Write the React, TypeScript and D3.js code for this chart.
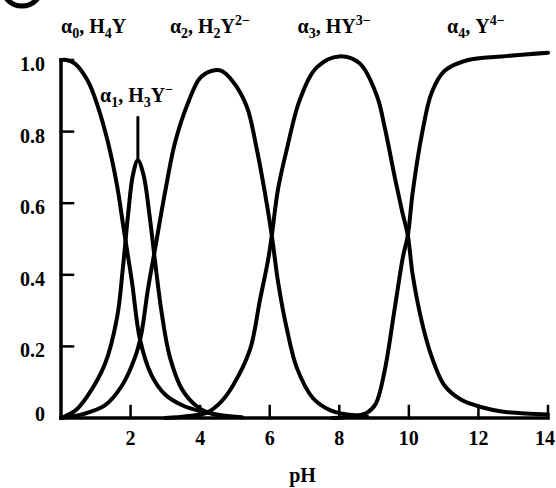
import * as d3 from 'd3';

// fraction of each EDTA species vs pH as [pH, alpha]
const alpha0: [number, number][] = [
  [0, 1.0], [0.15, 1.0], [0.4, 0.99], [0.78, 0.94], [1.06, 0.87], [1.35, 0.77],
  [1.61, 0.65], [1.8, 0.53], [2.04, 0.38], [2.27, 0.22], [2.6, 0.12], [3.0, 0.065],
  [3.5, 0.035], [4.05, 0.018], [4.6, 0.008], [5.2, 0.002],
];
const alpha1: [number, number][] = [
  [0, 0], [0.4, 0.02], [0.75, 0.06], [1.26, 0.15], [1.61, 0.28], [1.78, 0.42],
  [1.93, 0.57], [2.07, 0.68], [2.21, 0.72], [2.37, 0.68], [2.54, 0.57], [2.7, 0.44],
  [2.9, 0.29], [3.13, 0.17], [3.48, 0.08], [3.94, 0.03], [4.4, 0.01], [5.0, 0.002],
];
const alpha2: [number, number][] = [
  [0, 0], [0.6, 0.01], [1.26, 0.035], [1.75, 0.09], [2.13, 0.17], [2.3, 0.23],
  [2.5, 0.36], [2.7, 0.47], [2.99, 0.63], [3.28, 0.77], [3.65, 0.88], [4.0, 0.95],
  [4.35, 0.97], [4.6, 0.97], [4.94, 0.94], [5.34, 0.87], [5.63, 0.75], [5.86, 0.63],
  [6.06, 0.51], [6.24, 0.38], [6.49, 0.25], [6.78, 0.14], [7.24, 0.056], [7.73, 0.022],
  [8.1, 0.012], [8.8, 0.004],
];
const alpha3: [number, number][] = [
  [3.0, 0], [3.6, 0.005], [4.2, 0.015], [4.6, 0.045], [4.94, 0.09], [5.43, 0.19],
  [5.72, 0.33], [5.95, 0.44], [6.06, 0.51], [6.24, 0.64], [6.49, 0.75], [6.87, 0.89],
  [7.36, 0.98], [8.0, 1.01], [8.59, 0.99], [9.08, 0.9], [9.31, 0.81], [9.6, 0.67],
  [9.8, 0.58], [9.97, 0.51], [10.11, 0.4], [10.37, 0.27], [10.66, 0.17], [11.03, 0.09],
  [11.52, 0.05], [12.1, 0.03], [12.67, 0.018], [14, 0.01],
];
const alpha4: [number, number][] = [
  [7.8, 0], [8.4, 0.005], [8.8, 0.015], [9.05, 0.04], [9.3, 0.13], [9.6, 0.31],
  [9.83, 0.45], [9.97, 0.51], [10.11, 0.63], [10.37, 0.79], [10.66, 0.91], [11.03, 0.97],
  [11.7, 1.0], [12.67, 1.01], [14, 1.02],
];

const xTicks = [2, 4, 6, 8, 10, 12, 14];
const yTicks = [0.2, 0.4, 0.6, 0.8, 1.0];
const yTickLabels = ['0', '0.2', '0.4', '0.6', '0.8', '1.0'];

// label text pieces: [text, 'sub' | 'sup' | '']
type Piece = [string, string];
const speciesLabels: { ph: number; v: number; pieces: Piece[] }[] = [
  { ph: 0, v: 1.075, pieces: [['α', ''], ['0', 'sub'], [', H', ''], ['4', 'sub'], ['Y', '']] },
  { ph: 1.12, v: 0.883, pieces: [['α', ''], ['1', 'sub'], [', H', ''], ['3', 'sub'], ['Y', ''], ['−', 'sup']] },
  { ph: 3.13, v: 1.075, pieces: [['α', ''], ['2', 'sub'], [', H', ''], ['2', 'sub'], ['Y', ''], ['2−', 'sup']] },
  { ph: 6.8, v: 1.075, pieces: [['α', ''], ['3', 'sub'], [', HY', ''], ['3−', 'sup']] },
  { ph: 11.1, v: 1.075, pieces: [['α', ''], ['4', 'sub'], [', Y', ''], ['4−', 'sup']] },
];

const x = d3.scaleLinear().domain([0, 14]).range([61, 548]);
const y = d3.scaleLinear().domain([0, 1]).range([418, 60]);

const line = d3
  .line<[number, number]>()
  .x((d) => x(d[0]))
  .y((d) => y(d[1]))
  .curve(d3.curveCatmullRom.alpha(0.5));

const font = '"Liberation Serif", "Times New Roman", serif';

const Label = ({ ph, v, pieces }: { ph: number; v: number; pieces: Piece[] }) => {
  let shift = 0;
  return (
    <text x={x(ph)} y={y(v)} fontSize={20} fontWeight="bold" fontFamily={font}>
      {pieces.map(([t, kind], i) => {
        const target = kind === 'sub' ? 5 : kind === 'sup' ? -8 : 0;
        const dy = target - shift;
        shift = target;
        return (
          <tspan key={i} dy={dy} fontSize={kind ? 14 : 20}>
            {t}
          </tspan>
        );
      })}
    </text>
  );
};

export default function App() {
  const curves = [alpha0, alpha1, alpha2, alpha3, alpha4];
  return (
    <svg
      width={556}
      height={488}
      style={{ position: 'absolute', left: 0, top: 0, background: '#fff' }}
    >
      <rect width={556} height={488} fill="#fff" />
      <circle cx={22} cy={-14} r={20} fill="none" stroke="#000" strokeWidth={5} />

      {/* axes */}
      <g stroke="#000" strokeWidth={3.5} fill="none" strokeLinecap="square">
        <line x1={x(0)} x2={x(0)} y1={y(1)} y2={y(0)} />
        <line x1={x(0)} x2={x(14)} y1={y(0)} y2={y(0)} />
        {xTicks.map((t) => (
          <line key={t} x1={x(t)} x2={x(t)} y1={y(0)} y2={y(0) - 12} strokeWidth={2.5} />
        ))}
        {yTicks.map((t) => (
          <line key={t} x1={x(0)} x2={x(0) + 12} y1={y(t)} y2={y(t)} strokeWidth={2.5} />
        ))}
      </g>

      <g fontFamily={font} fontWeight="bold" fontSize={20} fill="#000">
        {[0, ...yTicks].map((t, i) => (
          <text key={t} x={45} y={y(t) + (t === 0 ? -4 : 4)} textAnchor="end" dominantBaseline="central">
            {yTickLabels[i]}
          </text>
        ))}
        {xTicks.map((t) => (
          <text key={t} x={t === 14 ? 555 : x(t)} y={445} textAnchor={t === 14 ? 'end' : 'middle'}>
            {t}
          </text>
        ))}
        <text x={x(7) - 2} y={482} textAnchor="middle">
          pH
        </text>
      </g>

      <g fill="none" stroke="#000" strokeWidth={4} strokeLinejoin="round" strokeLinecap="round">
        {curves.map((c, i) => (
          <path key={i} d={line(c) ?? ''} />
        ))}
        <line x1={x(2.21)} x2={x(2.21)} y1={y(0.84)} y2={y(0.725)} strokeWidth={3} />
      </g>

      {speciesLabels.map((l, i) => (
        <Label key={i} {...l} />
      ))}
    </svg>
  );
}
